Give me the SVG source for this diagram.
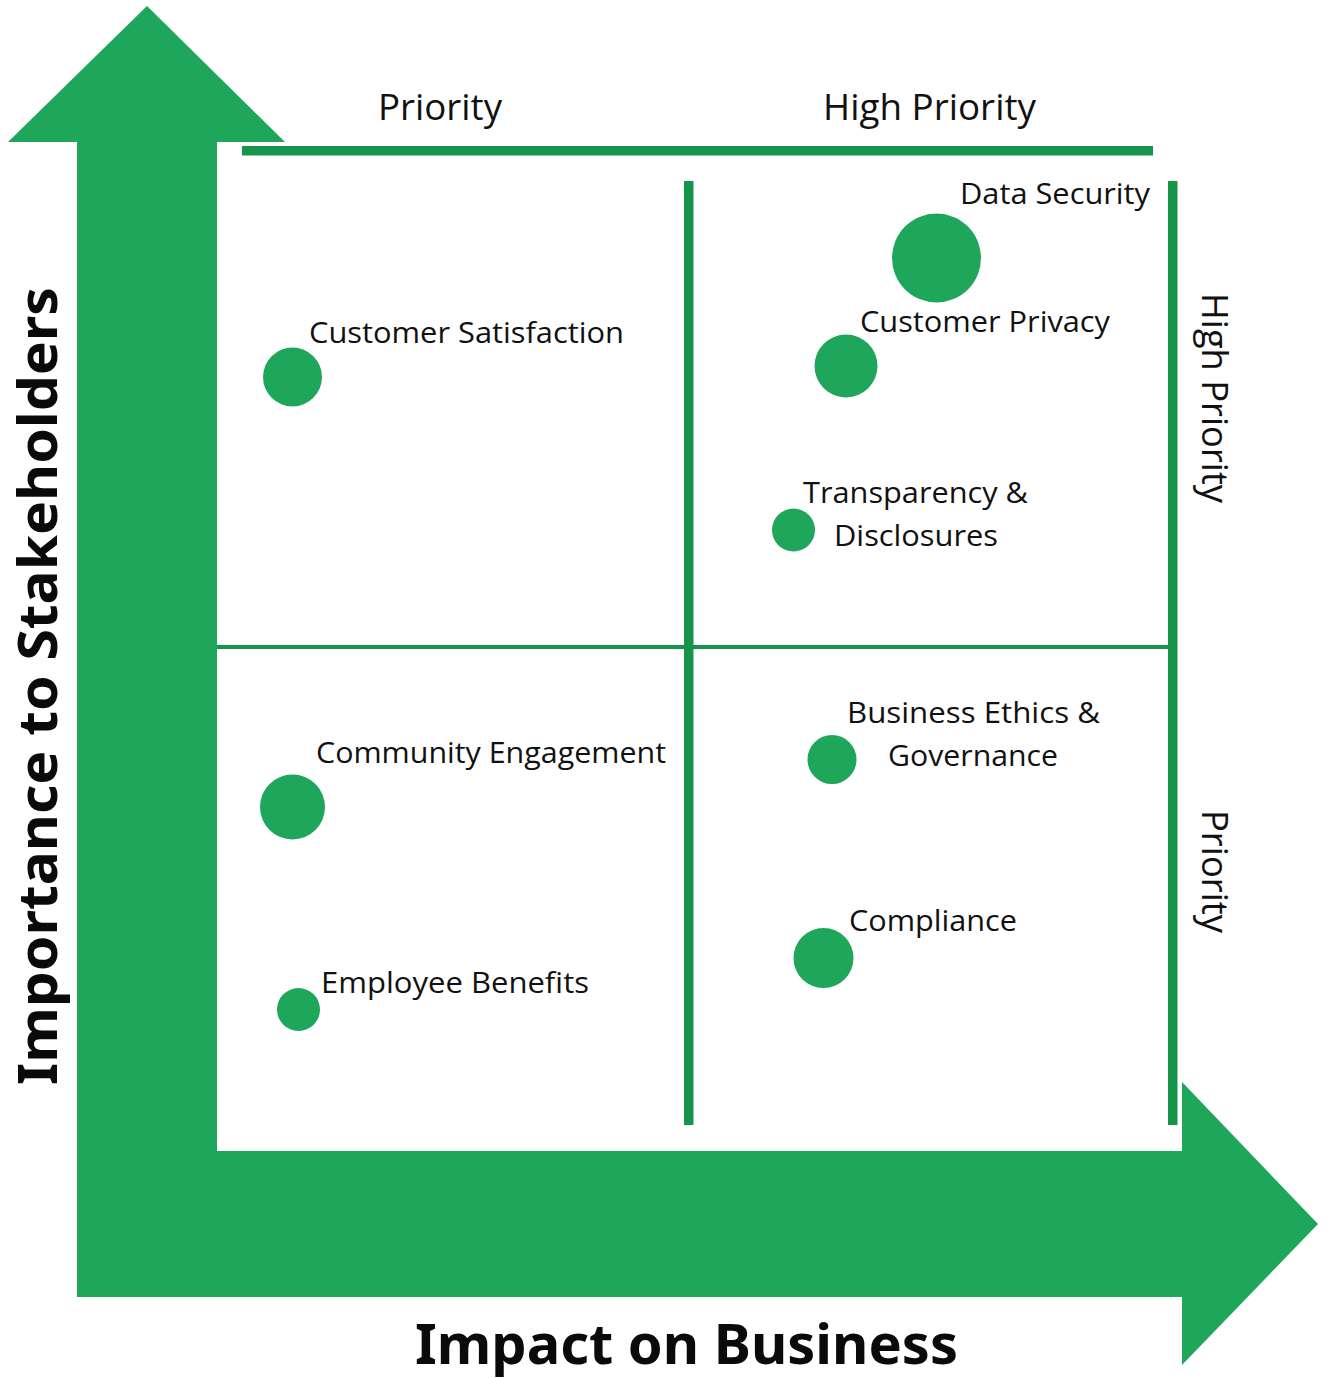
<svg xmlns="http://www.w3.org/2000/svg" width="1327" height="1378" viewBox="0 0 1327 1378">
<style>
.arrow{fill:#1EA65B}
.ln{fill:#16944A}
.dot{fill:#1EA65B}
.lbl{font-family:"Open Sans","Noto Sans",sans-serif;font-size:29px;fill:#111}
.hdr{font-family:"Open Sans","Noto Sans",sans-serif;font-size:37px;fill:#111}
.ttl{font-family:"Noto Sans","Open Sans",sans-serif;font-weight:bold;font-size:55px;fill:#0a0a0a}
</style>
<rect width="1327" height="1378" fill="#fff"/>
<g id="axes">
<polygon class="arrow" points="147,6 285,142 217,142 217,1151 1182,1151 1182,1082 1318,1224 1182,1365 1182,1297 77,1297 77,142 8,142"/>
</g>
<g id="connectors">
<rect class="ln" x="242" y="146" width="911" height="9.5"/>
<rect class="ln" x="684" y="181" width="9.5" height="944"/>
<rect class="ln" x="1168" y="181" width="9.5" height="944"/>
<rect class="ln" x="217" y="645" width="953" height="4"/>
</g>
<g id="headers">
<text class="hdr" x="378" y="120" textLength="124" lengthAdjust="spacingAndGlyphs">Priority</text>
<text class="hdr" x="823" y="120" textLength="213" lengthAdjust="spacingAndGlyphs">High Priority</text>
<text class="hdr" transform="translate(1202,293) rotate(90)" textLength="210" lengthAdjust="spacingAndGlyphs">High Priority</text>
<text class="hdr" transform="translate(1202,810) rotate(90)" textLength="123" lengthAdjust="spacingAndGlyphs">Priority</text>
</g>
<g id="titles">
<text class="ttl" x="415" y="1364" textLength="543" lengthAdjust="spacingAndGlyphs">Impact on Business</text>
<text class="ttl" transform="translate(57,1085) rotate(-90)" style="font-size:53px" textLength="798" lengthAdjust="spacingAndGlyphs">Importance to Stakeholders</text>
</g>
<g id="node-data-security">
<circle class="dot" cx="936.5" cy="258" r="44.5"/>
<text class="lbl" x="960" y="204" textLength="190" lengthAdjust="spacingAndGlyphs">Data Security</text>
</g>
<g id="node-customer-privacy">
<circle class="dot" cx="846" cy="366" r="31.5"/>
<text class="lbl" x="860" y="332" textLength="250" lengthAdjust="spacingAndGlyphs">Customer Privacy</text>
</g>
<g id="node-customer-satisfaction">
<circle class="dot" cx="292.5" cy="377" r="29.5"/>
<text class="lbl" x="309" y="343" textLength="315" lengthAdjust="spacingAndGlyphs">Customer Satisfaction</text>
</g>
<g id="node-transparency">
<circle class="dot" cx="793.5" cy="530" r="21.5"/>
<text class="lbl" x="803" y="503" textLength="225" lengthAdjust="spacingAndGlyphs">Transparency &amp;</text>
<text class="lbl" x="834" y="546" textLength="164" lengthAdjust="spacingAndGlyphs">Disclosures</text>
</g>
<g id="node-business-ethics">
<circle class="dot" cx="832" cy="759.5" r="24.5"/>
<text class="lbl" x="847" y="723" textLength="253" lengthAdjust="spacingAndGlyphs">Business Ethics &amp;</text>
<text class="lbl" x="888" y="766" textLength="170" lengthAdjust="spacingAndGlyphs">Governance</text>
</g>
<g id="node-community-engagement">
<circle class="dot" cx="292.5" cy="807" r="32.5"/>
<text class="lbl" x="316" y="763" textLength="350" lengthAdjust="spacingAndGlyphs">Community Engagement</text>
</g>
<g id="node-compliance">
<circle class="dot" cx="823.5" cy="958" r="30"/>
<text class="lbl" x="849" y="931" textLength="168" lengthAdjust="spacingAndGlyphs">Compliance</text>
</g>
<g id="node-employee-benefits">
<circle class="dot" cx="298.5" cy="1009.5" r="21.5"/>
<text class="lbl" x="321" y="993" textLength="268" lengthAdjust="spacingAndGlyphs">Employee Benefits</text>
</g>
</svg>
